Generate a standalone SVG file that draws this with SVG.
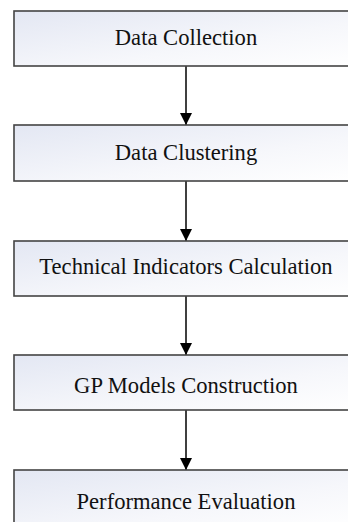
<svg xmlns="http://www.w3.org/2000/svg" width="348" height="522" viewBox="0 0 348 522">
  <defs>
    <linearGradient id="boxFill" x1="0" y1="0" x2="1" y2="1">
      <stop offset="0" stop-color="#e3e7f3"/>
      <stop offset="0.6" stop-color="#f6f7fb"/>
      <stop offset="1" stop-color="#ffffff"/>
    </linearGradient>
    <marker id="arrow" markerWidth="12" markerHeight="12" refX="12" refY="6" orient="auto" markerUnits="userSpaceOnUse">
      <path d="M0,0 L12,6 L0,12 Z" fill="#000"/>
    </marker>
  </defs>
  <style>
    .box { fill: url(#boxFill); stroke: #444; stroke-width: 1.6; }
    .label { font-family: 'Liberation Serif', 'Times New Roman', serif; font-size: 22.6px; fill: #111; text-anchor: middle; }
    .link { stroke: #000; stroke-width: 1.5; fill: none; marker-end: url(#arrow); }
  </style>
  <rect width="348" height="522" fill="#fff"/>

  <g id="connectors">
    <line class="link" x1="186" y1="66" x2="186" y2="125"/>
    <line class="link" x1="186" y1="181" x2="186" y2="241"/>
    <line class="link" x1="186" y1="296" x2="186" y2="355"/>
    <line class="link" x1="186" y1="410" x2="186" y2="470"/>
  </g>

  <g id="data-collection">
    <rect class="box" x="14" y="11" width="344" height="55"/>
    <text class="label" x="186" y="45">Data Collection</text>
  </g>
  <g id="data-clustering">
    <rect class="box" x="14" y="125" width="344" height="56"/>
    <text class="label" x="186" y="160">Data Clustering</text>
  </g>
  <g id="technical-indicators">
    <rect class="box" x="14" y="241" width="344" height="55"/>
    <text class="label" x="186" y="274">Technical Indicators Calculation</text>
  </g>
  <g id="gp-models">
    <rect class="box" x="14" y="355" width="344" height="55"/>
    <text class="label" x="186" y="393">GP Models Construction</text>
  </g>
  <g id="performance-evaluation">
    <rect class="box" x="14" y="470" width="344" height="60"/>
    <text class="label" x="186" y="509">Performance Evaluation</text>
  </g>
</svg>
